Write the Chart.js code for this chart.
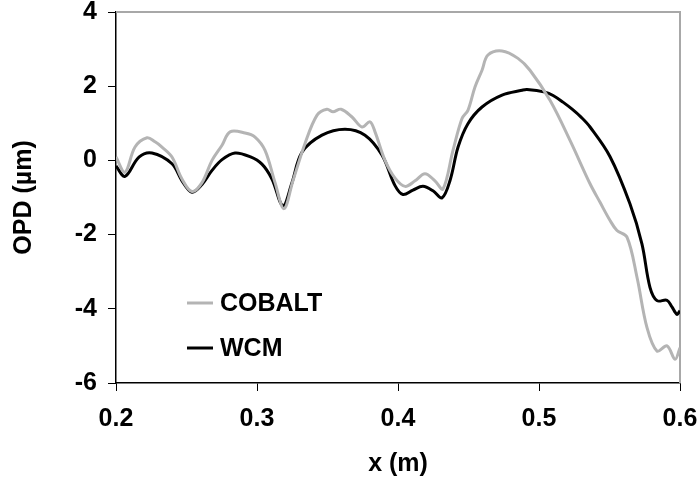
<!DOCTYPE html>
<html>
<head>
<meta charset="utf-8">
<script src="https://cdn.jsdelivr.net/npm/chart.js@4"></script>
<style>
  html, body { margin:0; padding:0; background:#fff; }
  #wrap { width:699px; height:484px; }
</style>
</head>
<body>
<div id="wrap"><canvas id="opd"></canvas></div>
<script>
// x positions (m) and OPD (um)
var cobaltX = [0.200,0.2064,0.2135,0.2220,0.2277,0.2326,0.2397,0.2468,0.2539,0.2610,0.2681,0.2752,0.2809,0.2915,0.2986,
  0.3057,0.3128,0.3191,0.3255,0.3340,0.3426,0.3496,0.3539,0.3596,0.3674,0.3745,0.3801,0.3837,0.3908,0.3979,
  0.4050,0.4121,0.4191,0.4262,0.4319,0.4390,0.4454,0.4496,0.4546,0.4596,0.4638,0.4738,0.4851,0.4936,0.5078,
  0.5220,0.5362,0.5433,0.5504,0.5553,0.5624,0.5695,0.5766,0.5837,0.5908,0.5965,0.600];
var cobaltY = [0.09,-0.32,0.36,0.61,0.50,0.36,0.09,-0.50,-0.84,-0.60,0.00,0.41,0.77,0.74,0.63,
  0.27,-0.60,-1.30,-0.55,0.45,1.22,1.38,1.31,1.38,1.17,0.90,1.04,0.77,0.00,-0.48,
  -0.70,-0.55,-0.36,-0.55,-0.77,0.27,1.13,1.35,1.98,2.43,2.84,2.95,2.75,2.43,1.62,
  0.54,-0.63,-1.13,-1.62,-1.89,-2.07,-3.15,-4.51,-5.14,-5.00,-5.36,-5.05];

var wcmX = [0.200,0.2064,0.2163,0.2255,0.2397,0.2468,0.2539,0.2610,0.2681,0.2752,0.2844,0.2950,0.3035,0.3106,0.3184,
  0.3248,0.3319,0.3461,0.3624,0.3766,0.3887,0.3979,0.4035,0.4106,0.4177,0.4248,0.4312,0.4369,0.4426,0.4496,
  0.4596,0.4738,0.4879,0.4915,0.5043,0.5100,0.5170,0.5235,0.5300,0.5362,0.5504,0.5645,0.5730,
  0.5787,0.5837,0.5908,0.5943,0.5979,0.600];
var wcmY = [-0.15,-0.43,0.09,0.20,-0.09,-0.55,-0.86,-0.65,-0.27,0.02,0.20,0.10,-0.10,-0.50,-1.22,
  -0.60,0.22,0.68,0.84,0.68,0.14,-0.68,-0.92,-0.80,-0.70,-0.82,-1.01,-0.54,0.36,0.99,
  1.44,1.76,1.89,1.91,1.84,1.75,1.57,1.38,1.16,0.90,0.10,-1.17,-2.25,
  -3.42,-3.78,-3.77,-3.95,-4.15,-4.05];

var seriesNames = ["COBALT","WCM"];
var xTicks = [0.2,0.3,0.4,0.5,0.6];
var yTicks = [-6,-4,-2,0,2,4];

var FONT = "'Liberation Sans', Arial, sans-serif";

function pts(xs, ys){
  var out = [];
  for (var i=0;i<xs.length;i++) out.push({x:xs[i], y:ys[i]});
  return out;
}

// gray frame on top and right like the original plot area
var frame = {
  id:"frame",
  beforeDatasetsDraw:function(c){
    var a = c.chartArea, ctx = c.ctx;
    ctx.save();
    ctx.strokeStyle = "#a8a8a8"; ctx.lineWidth = 2;
    ctx.beginPath();
    ctx.moveTo(a.left, a.top); ctx.lineTo(a.right, a.top); ctx.lineTo(a.right, a.bottom);
    ctx.stroke();
    ctx.restore();
  }
};

// legend sitting inside the plot, lower left
var boxLegend = {
  id:"boxLegend",
  afterDraw:function(c){
    var ctx = c.ctx, ys = [303, 348];
    ctx.save();
    ctx.font = "bold 25px " + FONT;
    ctx.textBaseline = "middle";
    c.data.datasets.forEach(function(ds, i){
      ctx.strokeStyle = ds.borderColor; ctx.lineWidth = 3;
      ctx.beginPath(); ctx.moveTo(187, ys[i]); ctx.lineTo(213, ys[i]); ctx.stroke();
      ctx.fillStyle = "#000";
      ctx.fillText(ds.label, 220, ys[i] + 1);
    });
    ctx.restore();
  }
};

new Chart(document.getElementById("opd").getContext("2d"), {
  type:"line",
  data:{
    datasets:[
      { label:seriesNames[0], data:pts(cobaltX, cobaltY), borderColor:"#b4b4b4", borderWidth:3,
        pointRadius:0, tension:0.35, fill:false },
      { label:seriesNames[1], data:pts(wcmX, wcmY), borderColor:"#000000", borderWidth:3,
        pointRadius:0, tension:0.35, fill:false }
    ]
  },
  options:{
    responsive:true, maintainAspectRatio:false, animation:false,
    layout:{ padding:{ left:0, top:12, right:19, bottom:0 }, autoPadding:false },
    plugins:{ legend:{ display:false }, tooltip:{ enabled:false } },
    scales:{
      x:{
        type:"linear", min:0.2, max:0.6,
        afterFit:function(s){ s.height = 101; s.paddingLeft = 0; s.paddingRight = 0; },
        afterBuildTicks:function(s){ s.ticks = xTicks.map(function(v){ return {value:v}; }); },
        ticks:{ color:"#000", padding:13, maxRotation:0, font:{ family:FONT, size:25, weight:"bold" },
          callback:function(v){ return v.toFixed(1); } },
        grid:{ drawOnChartArea:false, drawTicks:true, tickLength:8, color:"#000" },
        border:{ color:"#000", width:1.5 },
        title:{ display:true, text:"x (m)", color:"#000", padding:{ top:0, bottom:5 },
          font:{ family:FONT, size:25, weight:"bold" } }
      },
      y:{
        min:-6, max:4,
        afterFit:function(s){ s.width = 116; s.paddingTop = 0; s.paddingBottom = 0; },
        afterBuildTicks:function(s){ s.ticks = yTicks.map(function(v){ return {value:v}; }); },
        ticks:{ color:"#000", padding:11, font:{ family:FONT, size:25, weight:"bold" } },
        grid:{ drawOnChartArea:false, drawTicks:true, tickLength:8, color:"#000" },
        border:{ color:"#000", width:1.5 },
        title:{ display:true, text:"OPD (\u00b5m)", color:"#000", padding:{ top:9, bottom:0 },
          font:{ family:FONT, size:25, weight:"bold" } }
      }
    }
  },
  plugins:[frame, boxLegend]
});
</script>
</body>
</html>
